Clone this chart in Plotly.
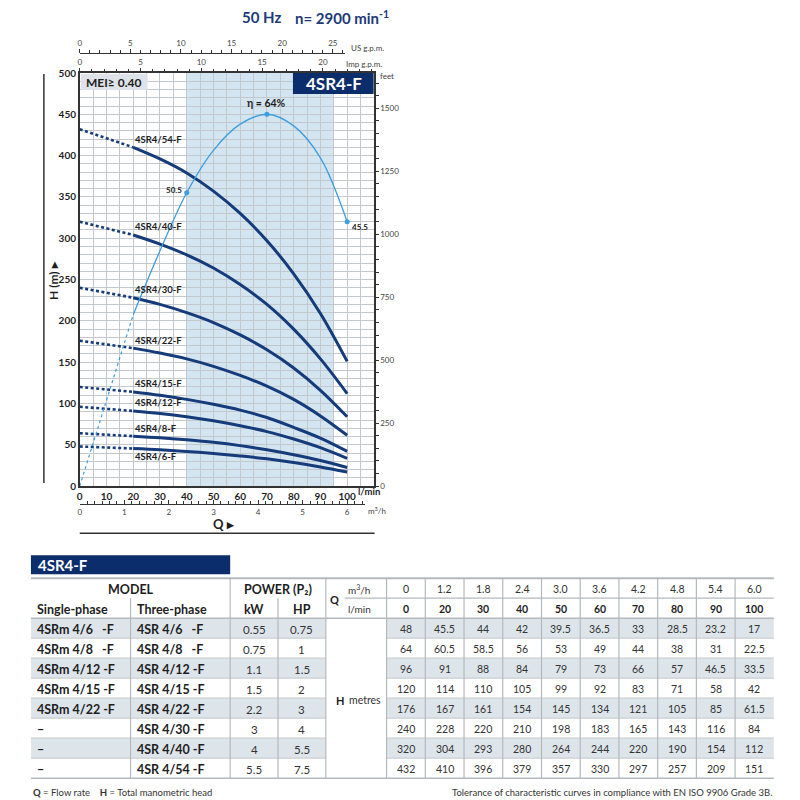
import plotly.graph_objects as go

# -- data ---------------------------------------------------------------------------------------------- #
q_lmin = [0, 20, 30, 40, 50, 60, 70, 80, 90, 100]
q_m3h = ["0", "1.2", "1.8", "2.4", "3.0", "3.6", "4.2", "4.8", "5.4", "6.0"]

models = ["4SR4/6-F", "4SR4/8-F", "4SR4/12-F", "4SR4/15-F", "4SR4/22-F", "4SR4/30-F", "4SR4/40-F", "4SR4/54-F"]
single_phase = ["4SRm 4/6   -F", "4SRm 4/8   -F", "4SRm 4/12 -F", "4SRm 4/15 -F", "4SRm 4/22 -F", "–", "–", "–"]
three_phase = ["4SR 4/6   -F", "4SR 4/8   -F", "4SR 4/12 -F", "4SR 4/15 -F", "4SR 4/22 -F",
               "4SR 4/30 -F", "4SR 4/40 -F", "4SR 4/54 -F"]
power_kw = ["0.55", "0.75", "1.1", "1.5", "2.2", "3", "4", "5.5"]
power_hp = ["0.75", "1", "1.5", "2", "3", "4", "5.5", "7.5"]

head_6 = [48, 45.5, 44, 42, 39.5, 36.5, 33, 28.5, 23.2, 17]
head_8 = [64, 60.5, 58.5, 56, 53, 49, 44, 38, 31, 22.5]
head_12 = [96, 91, 88, 84, 79, 73, 66, 57, 46.5, 33.5]
head_15 = [120, 114, 110, 105, 99, 92, 83, 71, 58, 42]
head_22 = [176, 167, 161, 154, 145, 134, 121, 105, 85, 61.5]
head_30 = [240, 228, 220, 210, 198, 183, 165, 143, 116, 84]
head_40 = [320, 304, 293, 280, 264, 244, 220, 190, 154, 112]
head_54 = [432, 410, 396, 379, 357, 330, 297, 257, 209, 151]
heads = [head_6, head_8, head_12, head_15, head_22, head_30, head_40, head_54]

# efficiency curve
eta_q = [0, 20, 30, 40, 50, 60, 70, 80, 90, 100]
eta_pct = [0, 29.5, 40.5, 50.5, 57.8, 62.3, 64, 62, 56.5, 45.5]
eta_marked = [40, 70, 100]

best_range = [40, 95]          # shaded area, l/min
dashed_until = 20              # curves drawn dashed below this flow

# unit factors
LMIN_PER_IMP = 4.546
LMIN_PER_US = 3.785
M3H_PER_LMIN = 0.06
FT_PER_M = 1 / 0.3048

# -- style ---------------------------------------------------------------------------------------------- #
NAVY = "#163b7a"
DARK = "#0b2d6b"
ETA = "#3d9ddf"
SHADE = "#d2e5f1"
GRID = "#c3c8cc"
ROWBG = "#dde5eb"
TLINE = "#b4b9be"
FONT = "Lato"
TXT = "#1e1e1e"

W, H = 800, 800
# the page shows the figure slightly shifted; positions below are in screen pixels
OX, OY, SY = 10, 13, 0.986
PL, PR, PT, PB = 79, 374, 72, 485      # plot frame
Q_MAX = 109.9
H_MAX = 500
ETA_TOP = 71.1                          # 64 % sits on 450 m


def px(x):
    return (x - OX) / W


def py(y):
    return 1 - (y - OY) / SY / H


fig = go.Figure()

# pump curves: dashed start, solid from 20 l/min on
for name, hv in zip(models, heads):
    qs = [q for q in q_lmin if q <= dashed_until]
    fig.add_trace(go.Scatter(x=qs, y=hv[:len(qs)], mode="lines",
                             line=dict(color=NAVY, width=2.6, dash="3px,2.5px"),
                             hoverinfo="skip", showlegend=False))
    k = q_lmin.index(dashed_until)
    fig.add_trace(go.Scatter(x=q_lmin[k:], y=hv[k:], mode="lines", line_shape="spline",
                             line=dict(color=NAVY, width=3), name=name, showlegend=False))
    shift = -8 if name == "4SR4/6-F" else 8
    fig.add_annotation(x=dashed_until, y=hv[k], text=name, showarrow=False, xanchor="left", yanchor="middle",
                       yshift=shift, font=dict(family=FONT, size=9.5, color=TXT, weight="bold"))

# invisible copies so the unit axes get drawn
ghost = dict(mode="lines", line=dict(width=0), opacity=0, hoverinfo="skip", showlegend=False)
fig.add_trace(go.Scatter(x=q_lmin, y=[h * FT_PER_M for h in head_54], yaxis="y2", **ghost))
fig.add_trace(go.Scatter(x=[q / LMIN_PER_IMP for q in q_lmin], y=head_54, xaxis="x2", **ghost))
fig.add_trace(go.Scatter(x=[q / LMIN_PER_US for q in q_lmin], y=[0.5] * len(q_lmin),
                         xaxis="x3", yaxis="y4", **ghost))
fig.add_trace(go.Scatter(x=[q * M3H_PER_LMIN for q in q_lmin], y=[0.5] * len(q_lmin),
                         xaxis="x4", yaxis="y5", **ghost))

# efficiency curve (own hidden scale)
k = eta_q.index(dashed_until)
fig.add_trace(go.Scatter(x=eta_q[:k + 1], y=eta_pct[:k + 1], yaxis="y3", mode="lines",
                         line=dict(color=ETA, width=1.2, dash="dot"), showlegend=False, hoverinfo="skip"))
fig.add_trace(go.Scatter(x=eta_q[k:], y=eta_pct[k:], yaxis="y3", mode="lines", line_shape="spline",
                         line=dict(color=ETA, width=1.3), showlegend=False, name="η"))
mk = [eta_pct[eta_q.index(q)] for q in eta_marked]
fig.add_trace(go.Scatter(x=eta_marked, y=mk, yaxis="y3", mode="markers",
                         marker=dict(color=ETA, size=5), showlegend=False, hoverinfo="skip"))
fig.add_annotation(x=eta_marked[0], y=mk[0], yref="y3", text=f"{mk[0]:g}", showarrow=False,
                   xanchor="right", yanchor="middle", xshift=-3, yshift=3,
                   font=dict(family=FONT, size=8, color=TXT, weight="bold"))
fig.add_annotation(x=eta_marked[1], y=mk[1], yref="y3", text=f"η = {mk[1]:g}%", showarrow=False,
                   xanchor="center", yanchor="middle", yshift=11,
                   font=dict(family=FONT, size=10.5, color=TXT, weight="bold"))
fig.add_annotation(x=eta_marked[2], y=mk[2], yref="y3", text=f"{mk[2]:g}", showarrow=False,
                   xanchor="left", yanchor="middle", xshift=3, yshift=-5,
                   font=dict(family=FONT, size=8, color=TXT, weight="bold"))

# best efficiency band
fig.add_shape(type="rect", x0=best_range[0], x1=best_range[1], y0=0, y1=H_MAX, xref="x", yref="y",
              fillcolor=SHADE, line_width=0, layer="below")

small = dict(family=FONT, size=8, color="#444")
bold10 = dict(family=FONT, size=10, color=TXT, weight="bold")

fig.update_layout(
    width=W, height=H, margin=dict(l=0, r=0, t=0, b=0),
    paper_bgcolor="white", plot_bgcolor="white", showlegend=False,
    xaxis=dict(domain=[px(PL), px(PR)], range=[0, Q_MAX], anchor="y",
               tickmode="linear", tick0=0, dtick=10, ticks="", tickfont=bold10,
               showgrid=True, gridcolor=GRID, gridwidth=1,
               minor=dict(dtick=5, showgrid=True, gridcolor=GRID, gridwidth=1),
               showline=True, linecolor="#333", linewidth=1.5, mirror=True, zeroline=False),
    yaxis=dict(domain=[py(PB), py(PT)], range=[0, H_MAX], anchor="x",
               tickmode="linear", tick0=0, dtick=50, ticks="", tickfont=bold10,
               showgrid=True, gridcolor=GRID, gridwidth=1,
               minor=dict(dtick=10, showgrid=True, gridcolor=GRID, gridwidth=1),
               showline=True, linecolor="#333", linewidth=1.5, mirror=True, zeroline=False),
    # feet
    yaxis2=dict(overlaying="y", side="right", anchor="x", range=[0, H_MAX * FT_PER_M],
                tickvals=[0, 250, 500, 750, 1000, 1250, 1500], ticks="outside", ticklen=4,
                tickcolor="#333", tickfont=small, showgrid=False, zeroline=False,
                minor=dict(dtick=50, ticks="outside", ticklen=4, tickcolor="#333", showgrid=False)),
    # efficiency scale (hidden)
    yaxis3=dict(overlaying="y", range=[0, ETA_TOP], visible=False),
    # Imp g.p.m.
    xaxis2=dict(overlaying="x", side="top", anchor="y", range=[0, Q_MAX / LMIN_PER_IMP],
                tickmode="linear", tick0=0, dtick=5, ticks="outside", ticklen=4, tickcolor="#333",
                tickfont=small, showgrid=False, zeroline=False,
                minor=dict(dtick=1, ticks="outside", ticklen=3, tickcolor="#333", showgrid=False)),
    # US g.p.m.
    xaxis3=dict(domain=[px(PL), px(345)], anchor="y4", side="top",
                range=[0, Q_MAX * (345 - PL) / (PR - PL) / LMIN_PER_US],
                tickmode="linear", tick0=0, dtick=5, ticks="outside", ticklen=4, tickcolor="#333",
                tickfont=small, showgrid=False, zeroline=False, showline=True, linecolor="#333", linewidth=1,
                minor=dict(dtick=1, ticks="outside", ticklen=3, tickcolor="#333", showgrid=False)),
    yaxis4=dict(domain=[py(53) - 0.005, py(53)], anchor="x3", visible=False, range=[0, 1]),
    # m3/h
    xaxis4=dict(domain=[px(PL), px(365)], anchor="y5", side="bottom",
                range=[0, Q_MAX * (365 - PL) / (PR - PL) * M3H_PER_LMIN],
                tickmode="linear", tick0=0, dtick=1, ticks="inside", ticklen=4, tickcolor="#333",
                tickfont=small, showgrid=False, zeroline=False, showline=True, linecolor="#333", linewidth=1,
                minor=dict(dtick=1 / 6, ticks="inside", ticklen=3, tickcolor="#333", showgrid=False)),
    yaxis5=dict(domain=[py(503), py(503) + 0.005], anchor="x4", visible=False, range=[0, 1]),
)


def txt(x, y, s, size=10.5, bold=False, anchor="center", color="#333", angle=0):
    fig.add_annotation(xref="paper", yref="paper", x=px(x), y=py(y), text=s, showarrow=False,
                       xanchor=anchor, yanchor="middle", textangle=angle,
                       font=dict(family=FONT, size=size, color=color, weight="bold" if bold else "normal"))


# boxes on top of the chart
fig.add_shape(type="rect", xref="paper", yref="paper", x0=px(80), x1=px(147), y0=py(89), y1=py(PT + 1),
              fillcolor="#dde3e8", line_width=0)
txt(113, 81, "MEI≥ 0.40", size=12, bold=True, color=TXT)
fig.add_shape(type="rect", xref="paper", yref="paper", x0=px(293), x1=px(PR), y0=py(93), y1=py(PT),
              fillcolor=DARK, line_width=0)
txt(334, 82.5, "4SR4-F", size=17, bold=True, color="white")

# axis captions
txt(240, 16, "50 Hz", size=15, bold=True, anchor="left", color="#1c3a78")
txt(293, 16, "n= 2900 min<sup>-1</sup>", size=15, bold=True, anchor="left", color="#1c3a78")
txt(349, 47, "US g.p.m.", size=8, anchor="left", color="#444")
txt(344, 63, "Imp g.p.m.", size=8, anchor="left", color="#444")
txt(378, 75, "feet", size=8, anchor="left", color="#444")
txt(356, 490, "l/min", size=9.5, bold=True, anchor="left", color=TXT)
txt(366, 509, "m<sup>3</sup>/h", size=8, anchor="left", color="#444")
txt(52, 280, "H (m) ▸", size=12, bold=True, color=TXT, angle=-90)
txt(224, 523, "Q ▸", size=13, bold=True, color=TXT)
fig.add_shape(type="line", xref="paper", yref="paper", x0=px(43), x1=px(43), y0=py(482), y1=py(73),
              line=dict(color="#333", width=1.5))
fig.add_shape(type="line", xref="paper", yref="paper", x0=px(79), x1=px(375), y0=py(532), y1=py(532),
              line=dict(color="#333", width=1.5))

# -- table ------------------------------------------------------------------------------------------------ #
T_L, T_R = 30, 775.7
col_sp, col_tp, col_kw, col_hp, col_qh, col_v = 30, 130, 230, 278, 326, 387
vw = (T_R - col_v) / len(q_lmin)
v_edges = [col_v + i * vw for i in range(len(q_lmin) + 1)]
v_mid = [col_v + (i + 0.5) * vw for i in range(len(q_lmin))]
T_TOP, HDR2, BODY, ROW_H = 577, 597, 617, 20
T_BOT = BODY + ROW_H * len(models)


def hline(y, x0, x1, color=TLINE, w=1.2):
    fig.add_shape(type="line", xref="paper", yref="paper", x0=px(x0), x1=px(x1), y0=py(y), y1=py(y),
                  line=dict(color=color, width=w))


def vline(x, y0, y1, color=TLINE, w=1.2):
    fig.add_shape(type="line", xref="paper", yref="paper", x0=px(x), x1=px(x), y0=py(y0), y1=py(y1),
                  line=dict(color=color, width=w))


# title bar
fig.add_shape(type="rect", xref="paper", yref="paper", x0=px(T_L), x1=px(col_kw), y0=py(573), y1=py(554),
              fillcolor=DARK, line_width=0)
txt(35, 563.5, "4SR4-F", size=15, bold=True, anchor="left", color="white")

# row shading
for i in range(0, len(models), 2):
    y0, y1 = BODY + i * ROW_H, BODY + (i + 1) * ROW_H
    for a, b in [(T_L, col_qh), (col_v, T_R)]:
        fig.add_shape(type="rect", xref="paper", yref="paper", x0=px(a), x1=px(b), y0=py(y1), y1=py(y0),
                      fillcolor=ROWBG, line_width=0, layer="below")

# grid lines
hline(T_TOP, T_L, T_R, w=2)
hline(BODY, T_L, T_R, w=1.5)
hline(T_BOT, T_L, T_R, w=1.5)
hline(HDR2, 345, T_R)
for i in range(1, len(models)):
    y = BODY + i * ROW_H
    hline(y, T_L, col_qh, color="#c9ced2")
    hline(y, col_v, T_R, color="#c9ced2")
for x in [col_kw, col_qh] + v_edges[:-1]:
    vline(x, T_TOP, T_BOT)
for x in [col_tp, col_hp]:
    vline(x, HDR2, T_BOT)

# headers
hy1, hy2 = (T_TOP + HDR2) / 2 + 1, (HDR2 + BODY) / 2 + 1
txt((col_sp + col_kw) / 2, hy1, "MODEL", size=12.5, bold=True, color=TXT)
txt(34, hy2, "Single-phase", size=12.5, bold=True, anchor="left", color=TXT)
txt(134, hy2, "Three-phase", size=12.5, bold=True, anchor="left", color=TXT)
txt((col_kw + col_qh) / 2, hy1, "POWER (P₂)", size=12.5, bold=True, color=TXT)
txt((col_kw + col_hp) / 2, hy2, "kW", size=12.5, bold=True, color=TXT)
txt((col_hp + col_qh) / 2, hy2, "HP", size=12.5, bold=True, color=TXT)
txt(335, HDR2 + 1, "Q", size=11, bold=True, color=TXT)
txt(346, hy1, "m<sup>3</sup>/h", size=10, anchor="left")
txt(346, hy2, "l/min", size=10, anchor="left")
for xm, a, b in zip(v_mid, q_m3h, q_lmin):
    txt(xm, hy1, a, size=10.5)
    txt(xm, hy2, str(b), size=10.5, bold=True, color=TXT)

# body
for i in range(len(models)):
    yc = BODY + (i + 0.5) * ROW_H + 1
    txt(34, yc, single_phase[i].replace(" ", "\u00a0"), size=12.5, bold=True, anchor="left", color=TXT)
    txt(134, yc, three_phase[i].replace(" ", "\u00a0"), size=12.5, bold=True, anchor="left", color=TXT)
    txt((col_kw + col_hp) / 2, yc, power_kw[i], size=11.5)
    txt((col_hp + col_qh) / 2, yc, power_hp[i], size=11.5)
    for xm, v in zip(v_mid, heads[i]):
        txt(xm, yc, f"{v:g}", size=10.5)
txt(334, 699, "H", size=11, bold=True, anchor="left", color=TXT)
txt(347, 699, "metres", size=10.5, anchor="left")

# footer
txt(30, 791, "<b>Q</b> = Flow rate    <b>H</b> = Total manometric head", size=9.5, anchor="left")
txt(T_R, 791, "Tolerance of characteristic curves in compliance with EN ISO 9906 Grade 3B.", size=9.5,
    anchor="right")

fig.write_html("out.html")
